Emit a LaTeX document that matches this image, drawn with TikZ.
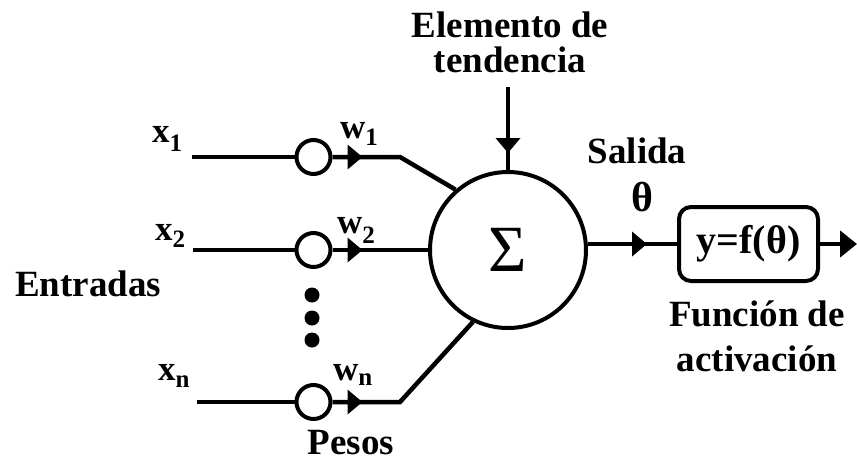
\documentclass[tikz,border=0pt]{standalone}
\usepackage{fontspec}
\setmainfont{Liberation Serif}
\usetikzlibrary{arrows.meta,decorations.markings}
\newcommand{\lowidx}[2]{\raisebox{-#1}{\fontsize{25}{25}\selectfont #2}}
\tikzset{
  wire/.style={line width=4.5pt},
  lbl/.style={font=\fontsize{37}{35}\selectfont\bfseries, inner sep=0pt},
  idx/.style={font=\fontsize{35}{35}\selectfont\bfseries, inner sep=0pt, anchor=base west},
  weight/.style={draw, circle, line width=4pt, minimum size=34pt, inner sep=0pt},
  sumnode/.style={draw, circle, line width=4pt, minimum size=156pt, inner sep=0pt,
    font=\fontsize{66}{66}\selectfont},
  funcbox/.style={draw, line width=4pt, rounded corners=12pt, minimum width=139pt,
    minimum height=74pt, inner sep=0pt, font=\fontsize{40}{40}\selectfont\bfseries},
  dotmark/.style={circle, fill, minimum size=15pt, inner sep=0pt},
  tip/.style={-{Triangle[length=17pt,width=26pt]}},
  midtip/.style={postaction={decorate}, decoration={markings,
    mark=at position #1 with {\arrow{Triangle[length=15pt,width=24pt]}}}}
}
\begin{document}
\begin{tikzpicture}[x=1pt,y=-1pt]
  \useasboundingbox (0,0) rectangle (857,461);

  % weights and summing junction
  \node[weight] (w1) at (313.5,157) {};
  \node[weight] (w2) at (313.5,250) {};
  \node[weight] (wn) at (313.5,402) {};
  \node[sumnode] (sum) at (508,250) {Σ};
  \node[funcbox] (box) at (748.5,244) {y=f(θ)};
  \foreach \y [count=\i] in {295,318,340}
    \node[dotmark] (dot\i) at (312,\y) {};

  \coordinate (in1) at (192,157);
  \coordinate (in2) at (193,250);
  \coordinate (inn) at (197,402);
  \coordinate (k1) at (400,157);
  \coordinate (kn) at (400,402);
  \coordinate (bias) at (508,87);
  \coordinate (out) at (857,244);

  % labels
  \node[idx] (lx1) at (152,142) {x\lowidx{9pt}{1}};
  \node[idx] (lx2) at (155,240) {x\lowidx{7pt}{2}};
  \node[idx] (lxn) at (158,380) {x\lowidx{7pt}{n}};
  \node[idx] (lw1) at (340,138) {w\lowidx{7pt}{1}};
  \node[idx] (lw2) at (337,233) {w\lowidx{10pt}{2}};
  \node[idx] (lwn) at (333,380) {w\lowidx{5pt}{n}};
  \node[lbl, anchor=base west] (inlbl) at (15,296) {Entradas};
  \node[lbl, anchor=base] (wlbl) at (351,454) {Pesos};
  \node[lbl, align=center] (biaslbl) at (510,42) {Elemento de\\tendencia};
  \node[lbl, anchor=base] (outlbl) at (637,163) {Salida};
  \node[lbl, anchor=base, font=\fontsize{42}{42}\selectfont\bfseries] (theta) at (642,211) {θ};
  \node[lbl, align=center, font=\fontsize{37}{45}\selectfont\bfseries] (fnlbl) at (757,336)
    {Función de\\activación};

  % connections
  \draw[wire] (in1) -- (w1);
  \draw[wire] (in2) -- (w2);
  \draw[wire] (inn) -- (wn);
  \draw[wire, midtip=30pt] (w1) -- (k1) -- (sum.131.5);
  \draw[wire, midtip=30pt] (w2) -- (sum);
  \draw[wire, midtip=30pt] (wn) -- (kn) -- (sum.244);
  \draw[wire, midtip=66pt] (bias) -- (sum);
  \draw[wire, midtip=59pt] (sum.east |- box.west) -- (box.west);
  \draw[wire, tip] (box) -- (out);
\end{tikzpicture}
\end{document}
